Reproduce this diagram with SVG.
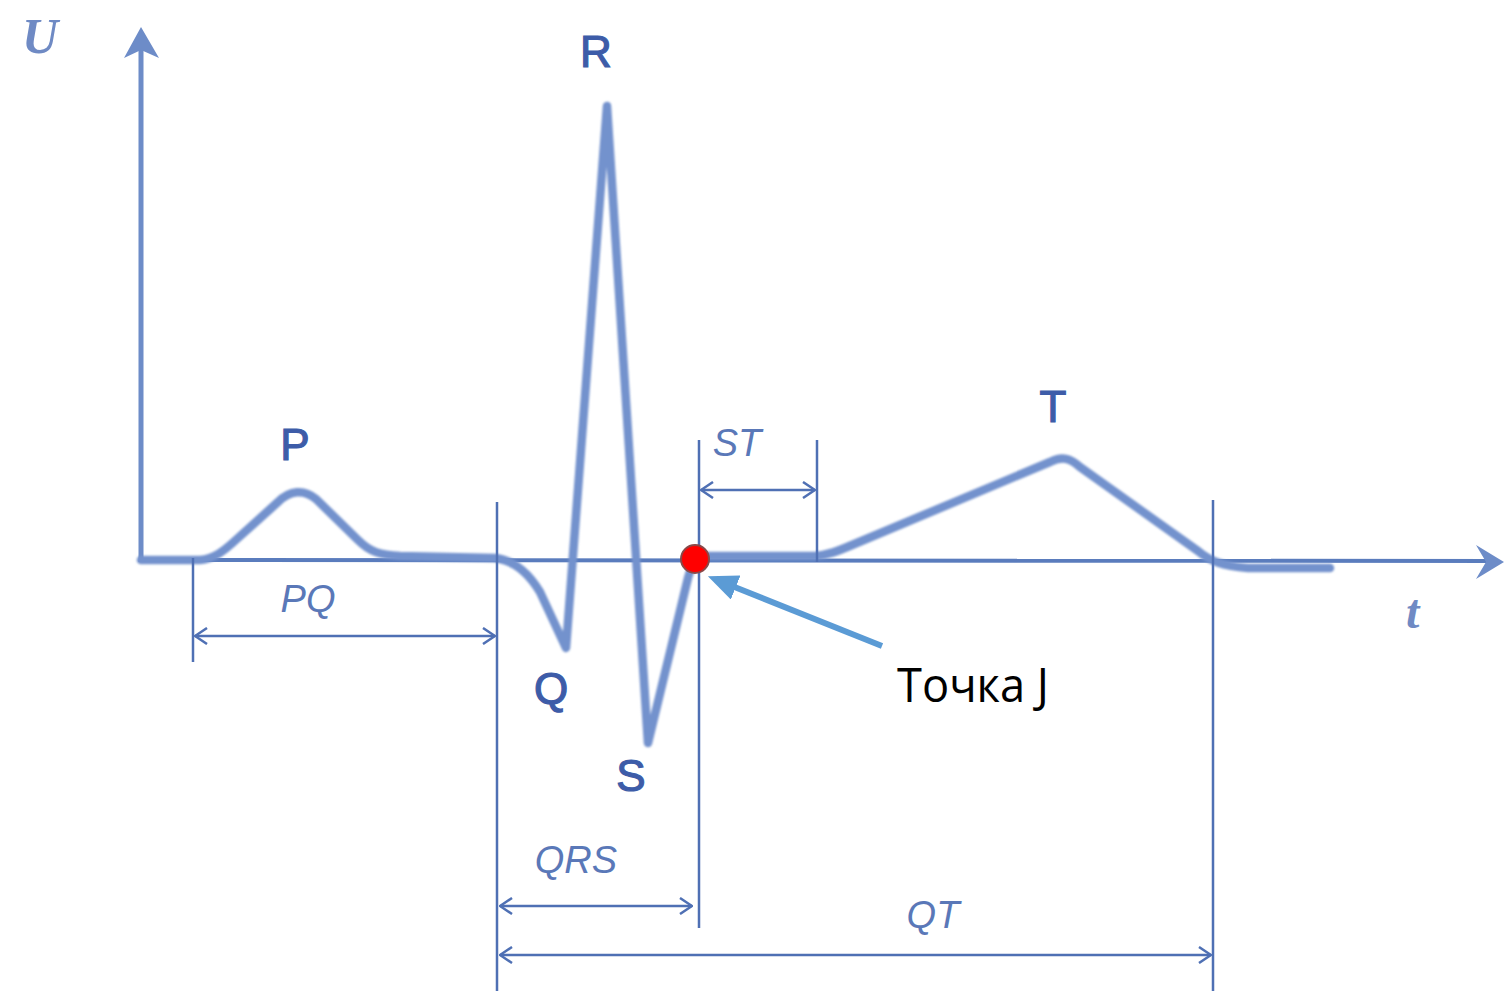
<svg xmlns="http://www.w3.org/2000/svg" width="1504" height="991" viewBox="0 0 1504 991">
<style>
.thin{stroke:#4f70b4;stroke-width:2.5;fill:none}
.dim{stroke:#4f70b4;stroke-width:2.5;fill:none;marker-start:url(#dimArr);marker-end:url(#dimArr)}
.wave{font-family:"Liberation Sans",Arial,sans-serif;font-size:44px;fill:#3d5ca8;stroke:#3d5ca8;stroke-width:1.2;text-anchor:middle}
.ival{font-family:"Liberation Sans",Arial,sans-serif;font-size:38px;font-style:italic;fill:#5a78b8;text-anchor:middle}
.axl{font-family:"Liberation Serif","Times New Roman",serif;font-style:italic;font-weight:bold;fill:#6f8ac4}
</style>
<defs>
<marker id="dimArr" viewBox="0 0 14 18" refX="13" refY="9" markerWidth="14" markerHeight="18" markerUnits="userSpaceOnUse" orient="auto-start-reverse">
<path d="M1,1 L13,9 L1,17" fill="none" stroke="#4f70b4" stroke-width="2.5"/>
</marker>
<marker id="jArr" viewBox="0 0 30 26" refX="4" refY="13" markerWidth="30" markerHeight="26" markerUnits="userSpaceOnUse" orient="auto">
<path d="M0,0 L30,13 L0,26 Z" fill="#5b9bd5"/>
</marker>
<filter id="soft" x="-5%" y="-5%" width="110%" height="110%">
<feGaussianBlur stdDeviation="1.2"/>
</filter>
</defs>
<rect width="1504" height="991" fill="#ffffff"/>

<g id="axes">
<line x1="141" y1="562" x2="141" y2="45" stroke="#6d8cc8" stroke-width="5"/>
<path d="M141,27 L159,58 L141,50 L124,58 Z" fill="#6d8cc8"/>
<line x1="141" y1="560" x2="1495" y2="561" stroke="#5a7cbd" stroke-width="4"/>
<path d="M1504,562 L1476,545 L1486,562 L1476,579 Z" fill="#6d8cc8"/>
<text class="axl" x="22" y="53" font-size="50">U</text>
<text class="axl" x="1406" y="628" font-size="48">t</text>
</g>

<g id="ecg-trace">
<path d="M141,560 L200,560 C214,559 224,551 238,538 L278,502 C290,490 304,489 316,499 L358,540 C370,552 380,555 400,556 L495,558 C512,560 528,572 540,592 L566,648 L607,106 L648,743 L688,578 C692,563 698,557 708,556 L815,556 C828,555 838,551 852,545 L1050,462 C1062,456 1070,458 1080,467 L1198,551 C1210,561 1222,566 1248,568 L1330,568" fill="none" stroke="#7392cd" stroke-width="8.5" stroke-linejoin="round" stroke-linecap="round" filter="url(#soft)"/>
</g>

<g id="connectors">
<line class="thin" x1="193" y1="558" x2="193" y2="662"/>
<line class="thin" x1="497" y1="502" x2="497" y2="991"/>
<line class="thin" x1="699" y1="440" x2="699" y2="928"/>
<line class="thin" x1="817" y1="440" x2="817" y2="562"/>
<line class="thin" x1="1213" y1="500" x2="1213" y2="991"/>
<line class="dim" x1="195" y1="636" x2="495" y2="636"/>
<line class="dim" x1="701" y1="490" x2="815" y2="490"/>
<line class="dim" x1="500" y1="906" x2="692" y2="906"/>
<line class="dim" x1="500" y1="955" x2="1211" y2="955"/>
<line x1="882" y1="646" x2="732" y2="586" stroke="#5b9bd5" stroke-width="6" marker-end="url(#jArr)"/>
</g>

<g id="point-J">
<circle cx="695" cy="559" r="14" fill="#ff0000" stroke="#8a4848" stroke-width="2"/>
</g>

<g id="labels">
<text class="wave" x="596" y="67">R</text>
<text class="wave" x="295" y="460">P</text>
<text class="wave" x="551" y="704">Q</text>
<text class="wave" x="631" y="791">S</text>
<text class="wave" x="1053" y="422">T</text>
<text class="ival" x="308" y="612">PQ</text>
<text class="ival" x="737" y="456">ST</text>
<text class="ival" x="576" y="873">QRS</text>
<text class="ival" x="933" y="928">QT</text>
<text x="897" y="702" font-family="'Open Sans','Noto Sans',sans-serif" font-size="48" fill="#000000" textLength="152" lengthAdjust="spacingAndGlyphs">Точка J</text>
</g>
</svg>
